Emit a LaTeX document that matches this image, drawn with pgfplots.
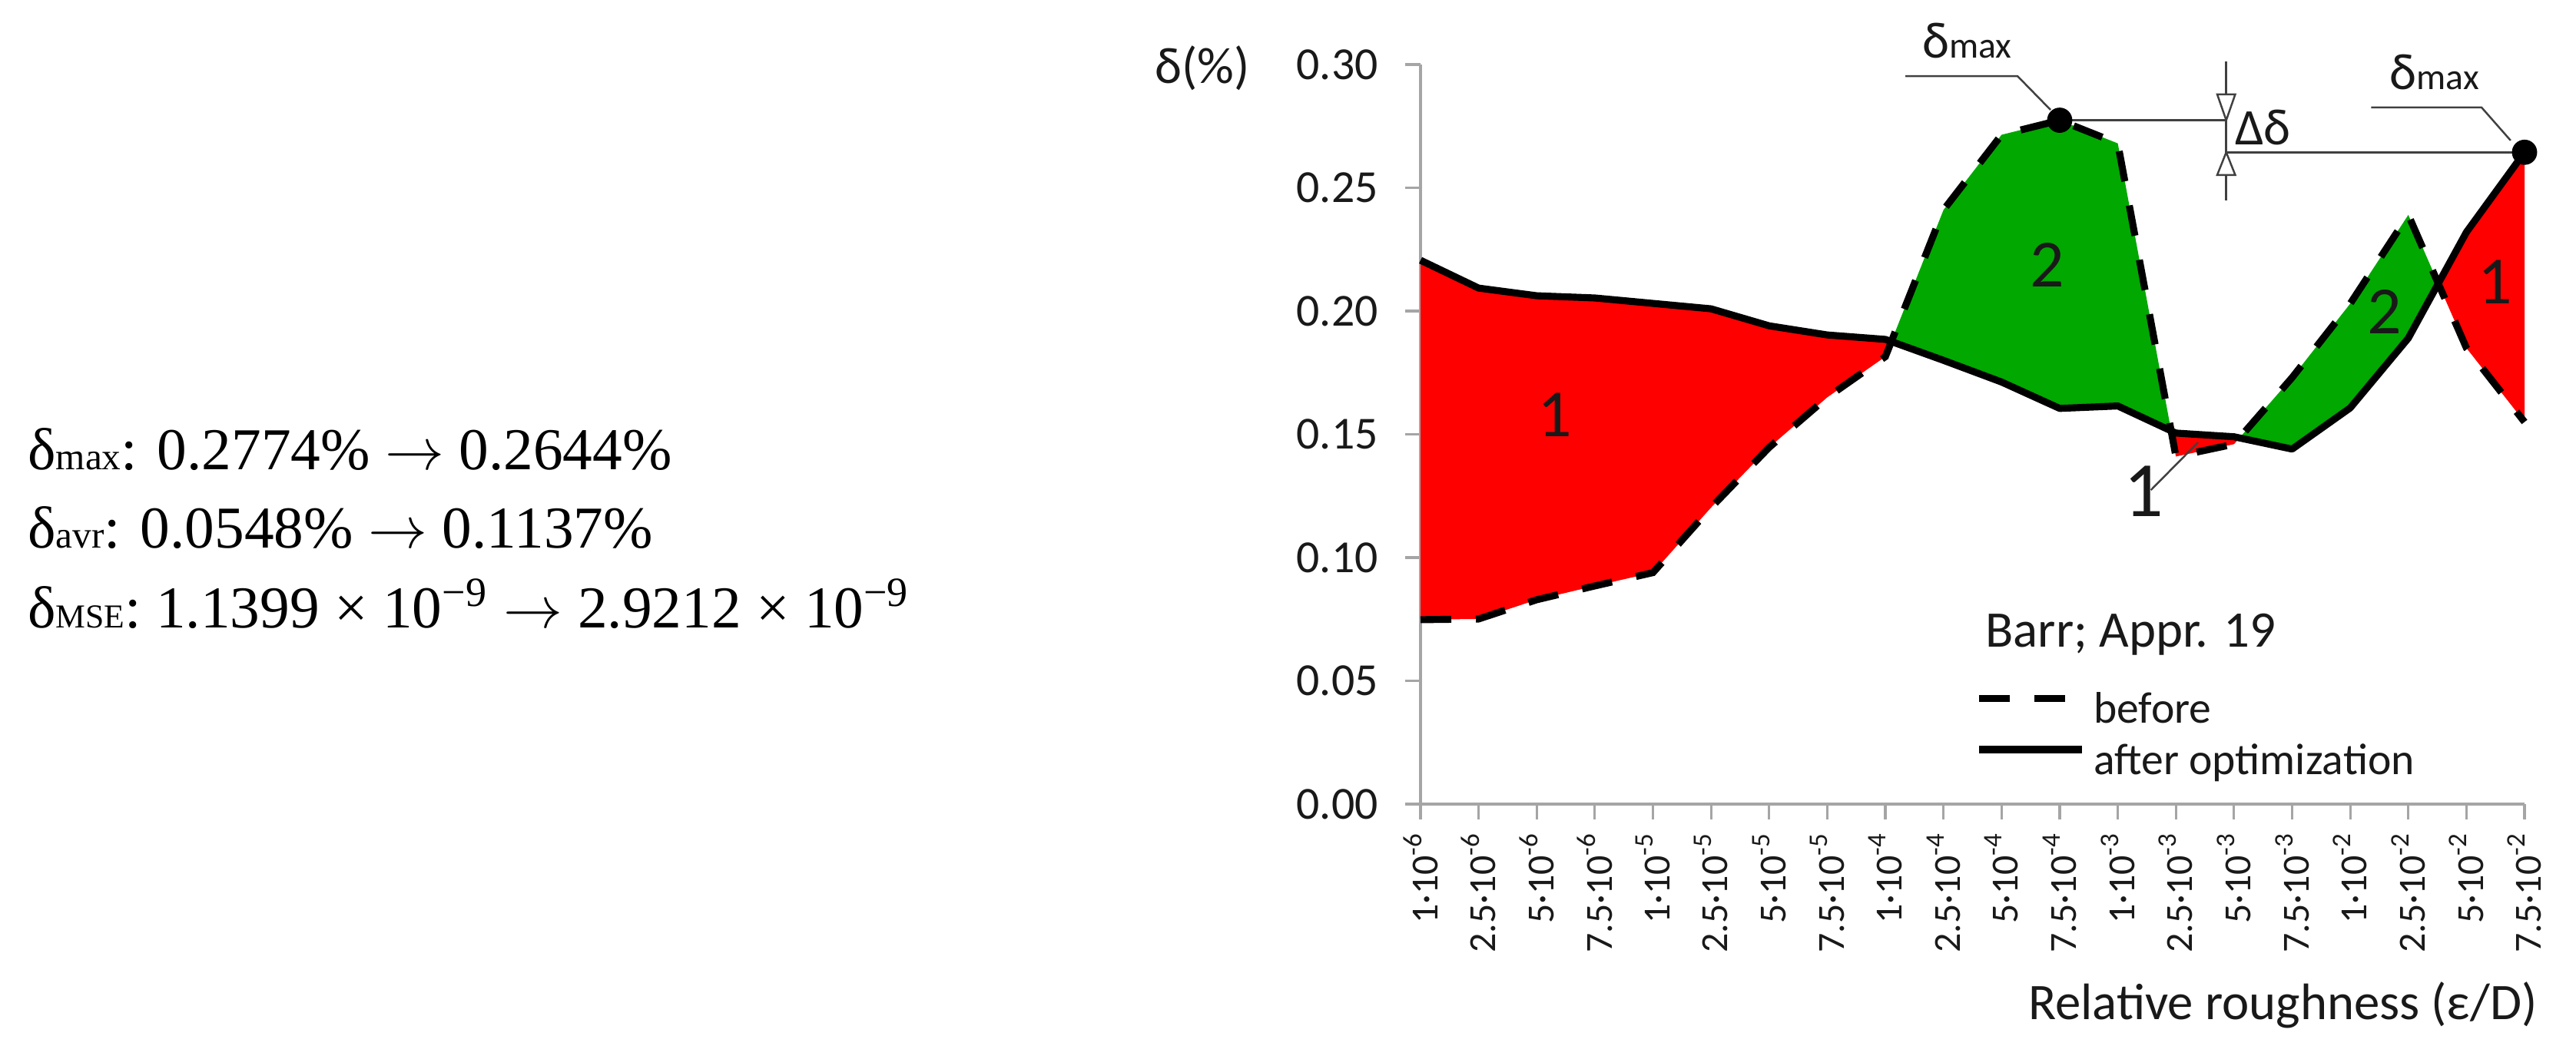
\documentclass[border=0pt]{standalone}
\usepackage{fontspec}
\setmainfont{Carlito}
\newfontfamily\tnr{Liberation Serif}
\usepackage{pgfplots}
\pgfplotsset{compat=1.18}
\usepackage{pgfplotstable}
\usepgfplotslibrary{fillbetween}

\definecolor{fillred}{RGB}{255,0,0}
\definecolor{fillgreen}{RGB}{0,168,0}
\definecolor{axgray}{RGB}{165,165,165}
\definecolor{txt}{RGB}{25,25,25}

% relative error before / after optimization, per roughness category
\pgfplotstableread{
x  bef    aft
0  0.0748 0.2206
1  0.0751 0.2093
2  0.0829 0.2062
3  0.0885 0.2053
4  0.0939 0.2031
5  0.1203 0.2009
6  0.1447 0.1940
7  0.1650 0.1903
8  0.1815 0.1885
9  0.2410 0.1800
10 0.2715 0.1712
11 0.2774 0.1605
12 0.2680 0.1615
13 0.1410 0.1505
14 0.1460 0.1490
15 0.1730 0.1440
16 0.2030 0.1607
17 0.2390 0.1890
18 0.1850 0.2320
19 0.1550 0.2644
}\errdata

\newcommand{\tl}[2]{#1·10\textsuperscript{-#2}}
\newcommand{\fs}[1]{\fontsize{#1}{#1}\selectfont}

\begin{document}
\begin{tikzpicture}
\path (0,0) rectangle (167.65mm,68.05mm);

% summary text on the left
\begin{scope}[every node/.style={anchor=base west, inner sep=0pt, font=\tnr\fs{11}}]
\node at (1.75mm,37.5mm) {δ{\fs{7}max}: 0.2774\% $\rightarrow$ 0.2644\%};
\node at (1.75mm,32.4mm) {δ{\fs{7}avr}: 0.0548\% $\rightarrow$ 0.1137\%};
\node at (1.75mm,27.2mm) {δ{\fs{6.2}MSE}: 1.1399 × 10\textsuperscript{−9} $\rightarrow$ 2.9212 × 10\textsuperscript{−9}};
\end{scope}

\begin{axis}[
    at={(92.45mm,15.7mm)}, anchor=south west,
    scale only axis, width=71.85mm, height=48.15mm,
    xmin=0, xmax=19, ymin=0, ymax=0.30,
    axis lines*=left,
    axis line style={axgray, line width=0.45pt},
    tick style={axgray, line width=0.45pt},
    tick align=outside, major tick length=1mm,
    xtick={0,...,19},
    xticklabels={\tl{1}{6},\tl{2.5}{6},\tl{5}{6},\tl{7.5}{6},
                 \tl{1}{5},\tl{2.5}{5},\tl{5}{5},\tl{7.5}{5},
                 \tl{1}{4},\tl{2.5}{4},\tl{5}{4},\tl{7.5}{4},
                 \tl{1}{3},\tl{2.5}{3},\tl{5}{3},\tl{7.5}{3},
                 \tl{1}{2},\tl{2.5}{2},\tl{5}{2},\tl{7.5}{2}},
    ytick={0,0.05,0.10,0.15,0.20,0.25,0.30},
    yticklabels={0.00,0.05,0.10,0.15,0.20,0.25,0.30},
    yticklabel style={font=\fs{8.5}, text=txt, anchor=east, inner sep=0pt, xshift=-1.7mm},
    xticklabel style={font=\fs{7.1}, text=txt, rotate=90, anchor=east, inner sep=2pt},
    xlabel={Relative roughness (ε/D)},
    xlabel style={at={(axis description cs:1.0125,-0.2908)}, anchor=base east,
                  inner sep=0pt, font=\fs{9.5}, text=txt},
    ylabel={δ(\%)},
    ylabel style={rotate=-90, at={(axis description cs:-0.154,0.995)}, anchor=east,
                  inner sep=0pt, font=\fs{9.5}, text=txt},
    clip=false,
    legend style={at={(axis description cs:0.5016,0.155)}, anchor=north west,
                  draw=none, fill=none, inner sep=0pt, row sep=1.5pt, column sep=0.55mm,
                  font=\fs{8.2}, text=txt,
                  nodes={inner sep=0pt, text height=6pt, text depth=2pt}},
    legend cell align=left,
]

\addplot[name path=bef, draw=none, forget plot] table[x=x,y=bef]{\errdata};
\addplot[name path=aft, draw=none, forget plot] table[x=x,y=aft]{\errdata};
\addplot[fillred, forget plot] fill between[of=aft and bef, split,
    every even segment/.style={fill=fillred},
    every odd segment/.style={fill=fillgreen}];

\addplot[black, line width=1.3pt, dash pattern=on 2mm off 1.6mm,
    legend image code/.code={\draw[black, line width=1.3pt, dash pattern=on 2mm off 1.6mm] (0mm,0.9mm) -- (5.6mm,0.9mm);}]
    table[x=x,y=bef]{\errdata};
\addlegendentry{before}
\addplot[black, line width=1.3pt, line join=round,
    legend image code/.code={\draw[black, line width=1.3pt] (0mm,0.9mm) -- (6.7mm,0.9mm);}]
    table[x=x,y=aft]{\errdata};
\addlegendentry{after optimization}
\addplot[only marks, mark=*, mark size=0.75mm, black, forget plot]
    coordinates {(11,0.2774) (19,0.2644)};

% legend title
\node[anchor=base west, inner sep=0pt, font=\fs{9.5}, text=txt] at (axis cs:9.705,0.0636) {Barr; Appr. 19};

% region numbers
\begin{scope}[every node/.style={inner sep=0pt, font=\fs{12.5}, text=txt}]
\node at (axis cs:2.31,0.158) {1};
\node at (axis cs:10.78,0.2187) {2};
\node at (axis cs:16.59,0.1997) {2};
\node at (axis cs:18.5,0.2118) {1};
\end{scope}
\node[anchor=base west, inner sep=0pt, font=\fs{14.5}, text=txt] at (axis cs:12.09,0.1168) {1};
\draw[black!75, line width=0.35pt] (axis cs:12.57,0.1274) -- (axis cs:13.38,0.1467);

% delta max annotations
\draw[black!75, line width=0.35pt] (axis cs:8.343,0.2953) -- (axis cs:10.274,0.2953) -- (axis cs:10.843,0.2816);
\node[anchor=base west, inner sep=0pt, font=\fs{9.5}, text=txt] at (axis cs:8.62,0.3025) {δ{\fs{6.8}max}};
\draw[black!75, line width=0.35pt] (axis cs:16.36,0.2826) -- (axis cs:18.26,0.2826) -- (axis cs:18.76,0.2692);
\node[anchor=base west, inner sep=0pt, font=\fs{9.5}, text=txt] at (axis cs:16.66,0.290) {δ{\fs{6.8}max}};

% dimension for the difference
\draw[black!75, line width=0.35pt] (axis cs:11,0.2774) -- (axis cs:13.866,0.2774);
\draw[black!75, line width=0.35pt] (axis cs:13.866,0.2644) -- (axis cs:19,0.2644);
\draw[black!75, line width=0.35pt] (axis cs:13.866,0.3011) -- (axis cs:13.866,0.2448);
\draw[black!75, line width=0.35pt, fill=white] (axis cs:13.866,0.2774) -- (axis cs:13.711,0.2879) -- (axis cs:14.021,0.2879) -- cycle;
\draw[black!75, line width=0.35pt, fill=white] (axis cs:13.866,0.2644) -- (axis cs:13.711,0.2552) -- (axis cs:14.021,0.2552) -- cycle;
\node[anchor=base west, inner sep=0pt, font=\fs{9.5}, text=txt] at (axis cs:14.0,0.2676) {Δδ};

\end{axis}
\end{tikzpicture}
\end{document}
